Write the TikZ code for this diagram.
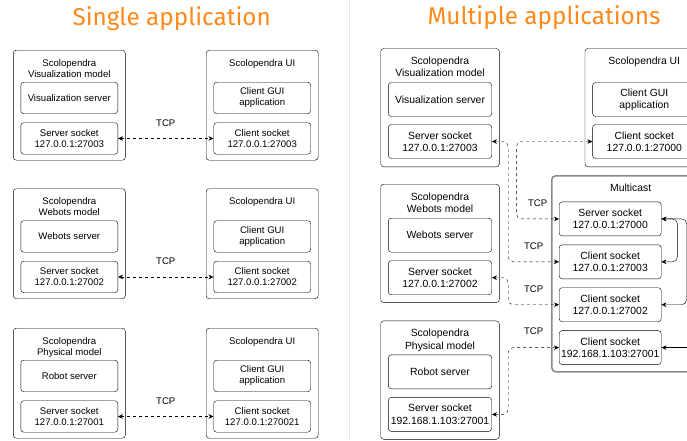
\documentclass[tikz,border=0pt]{standalone}
\usepackage{fontspec}
\setmainfont{Liberation Sans}
\newfontfamily\headfont{Fira Sans}
\usetikzlibrary{arrows.meta, positioning}
\definecolor{titleorange}{RGB}{255,136,26}
\definecolor{framegray}{RGB}{136,136,136}
\definecolor{rulegray}{RGB}{228,228,228}

\begin{document}
\begin{tikzpicture}[
    x=1pt, y=-1pt,
    >={Stealth[length=5pt,width=4.5pt]},
    heading/.style={font=\headfont\fontsize{24.3}{28}\selectfont, text=titleorange, anchor=base},
    modelL/.style={draw, rounded corners=3pt, minimum width=112pt, minimum height=110pt,
                   anchor=north, inner sep=0pt},
    modelR/.style={draw, rounded corners=3pt, minimum width=118.6pt, minimum height=118.4pt,
                   anchor=north, inner sep=0pt},
    headL/.style={align=center, inner sep=0pt, font=\fontsize{9.6}{11}\selectfont},
    headR/.style={align=center, inner sep=0pt, font=\fontsize{10.4}{12.3}\selectfont},
    partL/.style={draw, rounded corners=3pt, align=center, minimum width=97pt,
                  minimum height=31.5pt, inner sep=1pt, font=\fontsize{9.6}{11}\selectfont},
    partR/.style={draw, rounded corners=3pt, align=center, minimum width=103.4pt,
                  minimum height=34pt, inner sep=1pt, font=\fontsize{10.4}{12.3}\selectfont},
    tcp/.style={dashed, <->, rounded corners=5pt},
    bus/.style={<->, rounded corners=5pt},
    lbl/.style={font=\fontsize{9.6}{11}\selectfont, inner sep=0pt}
  ]
    \useasboundingbox (0,0) rectangle (687,440);
    \clip (0,0) rectangle (687,440);

    % titles and divider
    \node[heading] (singleT) at (171.7,25.5) {Single application};
    \node[heading] (multiT) at (544,24.5) {Multiple applications};
    \draw[rulegray, line width=1.5pt] (349.3,0) -- (349.3,440);

    % single application: visualization
    \node[modelL] (vizL) at (69.3,50) {};
    \node[headL, below=9pt of vizL.north] (vizLhead) {Scolopendra\\Visualization model};
    \node[partL, below=32pt of vizL.north] (vizLsrv) {Visualization server};
    \node[partL, below=72.5pt of vizL.north] (vizLsock) {Server socket\\127.0.0.1:27003};
    \node[modelL] (uiA) at (262.2,50) {};
    \node[headL, below=9pt of uiA.north] (uiAhead) {Scolopendra UI};
    \node[partL, below=32pt of uiA.north] (uiAgui) {Client GUI\\application};
    \node[partL, below=72.5pt of uiA.north] (uiAsock) {Client socket\\127.0.0.1:27003};

    % single application: webots
    \node[modelL] (webL) at (69.3,188.5) {};
    \node[headL, below=9pt of webL.north] (webLhead) {Scolopendra\\Webots model};
    \node[partL, below=32pt of webL.north] (webLsrv) {Webots server};
    \node[partL, below=72.5pt of webL.north] (webLsock) {Server socket\\127.0.0.1:27002};
    \node[modelL] (uiB) at (262.2,188.5) {};
    \node[headL, below=9pt of uiB.north] (uiBhead) {Scolopendra UI};
    \node[partL, below=32pt of uiB.north] (uiBgui) {Client GUI\\application};
    \node[partL, below=72.5pt of uiB.north] (uiBsock) {Client socket\\127.0.0.1:27002};

    % single application: physical
    \node[modelL] (phyL) at (69.3,328) {};
    \node[headL, below=9pt of phyL.north] (phyLhead) {Scolopendra\\Physical model};
    \node[partL, below=32pt of phyL.north] (phyLsrv) {Robot server};
    \node[partL, below=72.5pt of phyL.north] (phyLsock) {Server socket\\127.0.0.1:27001};
    \node[modelL] (uiC) at (262.2,328) {};
    \node[headL, below=9pt of uiC.north] (uiChead) {Scolopendra UI};
    \node[partL, below=32pt of uiC.north] (uiCgui) {Client GUI\\application};
    \node[partL, below=72.5pt of uiC.north] (uiCsock) {Client socket\\127.0.0.1:270021};

    \draw[tcp] (vizLsock) -- node[lbl, yshift=15.5pt]{TCP} (uiAsock);
    \draw[tcp] (webLsock) -- node[lbl, yshift=15.5pt]{TCP} (uiBsock);
    \draw[tcp] (phyLsock) -- node[lbl, yshift=15.5pt]{TCP} (uiCsock);

    % multiple applications
    \node[modelR] (vizR) at (440,48.3) {};
    \node[headR, below=8.4pt of vizR.north] (vizRhead) {Scolopendra\\Visualization model};
    \node[partR, below=34pt of vizR.north] (vizRsrv) {Visualization server};
    \node[partR, below=76pt of vizR.north] (vizRsock) {Server socket\\127.0.0.1:27003};
    \node[modelR] (webR) at (440,184) {};
    \node[headR, below=8.4pt of webR.north] (webRhead) {Scolopendra\\Webots model};
    \node[partR, below=34pt of webR.north] (webRsrv) {Webots server};
    \node[partR, below=76.5pt of webR.north] (webRsock) {Server socket\\127.0.0.1:27002};
    \node[modelR] (phyR) at (440,320.7) {};
    \node[headR, below=8.4pt of phyR.north] (phyRhead) {Scolopendra\\Physical model};
    \node[partR, below=34pt of phyR.north] (phyRsrv) {Robot server};
    \node[partR, below=76.5pt of phyR.north] (phyRsock) {Server socket\\192.168.1.103:27001};
    \node[modelR] (uiR) at (644.3,48.3) {};
    \node[headR, below=8.4pt of uiR.north] (uiRhead) {Scolopendra UI};
    \node[partR, below=34pt of uiR.north] (uiRgui) {Client GUI\\application};
    \node[partR, below=76pt of uiR.north] (uiRsock) {Client socket\\127.0.0.1:27000};

    % multicast group
    \node[draw=framegray, line width=1.5pt, rounded corners=4pt, minimum width=158pt,
          minimum height=196pt, anchor=north west] (mcast) at (551,175) {};
    \node[headR, below=8.3pt of mcast.north] (mcastHead) {Multicast};
    \node[partR, minimum width=102pt, below right=26.7pt and 8pt of mcast.north west] (mcS) {Server socket\\127.0.0.1:27000};
    \node[partR, minimum width=102pt, below=8.5pt of mcS] (mcC3) {Client socket\\127.0.0.1:27003};
    \node[partR, minimum width=102pt, below=8.5pt of mcC3] (mcC2) {Client socket\\127.0.0.1:27002};
    \node[partR, minimum width=102pt, below=8.5pt of mcC2] (mcC1) {Client socket\\192.168.1.103:27001};
    \coordinate[right=60pt of mcC1.east] (mcFeed);

    \draw[tcp] (uiRsock.west) -- ++(-76,0) |- node[lbl, pos=0.75, yshift=16pt]{TCP} (mcS.west);
    \draw[tcp] (vizRsock.east) -- ++(16.3,0) |- node[lbl, pos=0.75, yshift=16pt]{TCP} (mcC3.west);
    \draw[tcp] (webRsock.east) -- ++(16.3,0) |- node[lbl, pos=0.75, yshift=16pt]{TCP} (mcC2.west);
    \draw[tcp] (phyRsock.east) -- ++(16.3,0) |- node[lbl, pos=0.75, yshift=16pt]{TCP} (mcC1.west);

    \draw[bus] (mcS.east) -- ++(16,0) |- (mcC3.east);
    \draw[bus] (mcS.east) -- ++(25.3,0) |- (mcC2.east);
    \draw[->] (mcFeed) -- (mcC1.east);
\end{tikzpicture}
\end{document}
